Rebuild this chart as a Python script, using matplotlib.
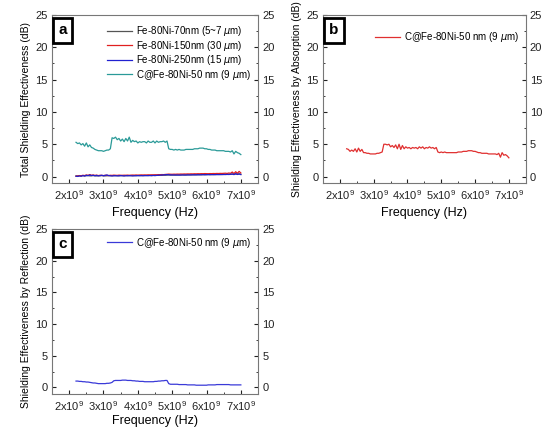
import matplotlib
matplotlib.use('Agg')
import matplotlib.pyplot as plt
from matplotlib.ticker import MultipleLocator, FuncFormatter

plt.rcParams['font.family'] = ['Liberation Sans', 'DejaVu Sans']
plt.rcParams['mathtext.fontset'] = 'custom'
plt.rcParams['mathtext.rm'] = 'Liberation Sans'

# frequency grid in GHz (2.20 .. 7.00, 0.05 steps)
freq_ghz = [2.20, 2.25, 2.30, 2.35, 2.40, 2.45, 2.50, 2.55, 2.60, 2.65,
            2.70, 2.75, 2.80, 2.85, 2.90, 2.95, 3.00, 3.05, 3.10, 3.15,
            3.20, 3.25, 3.30, 3.35, 3.40, 3.45, 3.50, 3.55, 3.60, 3.65,
            3.70, 3.75, 3.80, 3.85, 3.90, 3.95, 4.00, 4.05, 4.10, 4.15,
            4.20, 4.25, 4.30, 4.35, 4.40, 4.45, 4.50, 4.55, 4.60, 4.65,
            4.70, 4.75, 4.80, 4.85, 4.90, 4.95, 5.00, 5.05, 5.10, 5.15,
            5.20, 5.25, 5.30, 5.35, 5.40, 5.45, 5.50, 5.55, 5.60, 5.65,
            5.70, 5.75, 5.80, 5.85, 5.90, 5.95, 6.00, 6.05, 6.10, 6.15,
            6.20, 6.25, 6.30, 6.35, 6.40, 6.45, 6.50, 6.55, 6.60, 6.65,
            6.70, 6.75, 6.80, 6.85, 6.90, 6.95, 7.00]

# panel a: total shielding effectiveness
se_70nm = [0.10, 0.08, 0.12, 0.10, 0.15, 0.10, 0.12, 0.18, 0.10, 0.12,
           0.15, 0.12, 0.10, 0.14, 0.12, 0.15, 0.12, 0.10, 0.12, 0.15,
           0.14, 0.12, 0.15, 0.13, 0.15, 0.12, 0.14, 0.15, 0.12, 0.15,
           0.15, 0.14, 0.16, 0.15, 0.14, 0.16, 0.15, 0.17, 0.16, 0.15,
           0.17, 0.16, 0.18, 0.17, 0.16, 0.18, 0.17, 0.19, 0.18, 0.20,
           0.19, 0.21, 0.20, 0.22, 0.24, 0.22, 0.23, 0.24, 0.22, 0.24,
           0.25, 0.24, 0.26, 0.25, 0.24, 0.26, 0.27, 0.26, 0.27, 0.28,
           0.27, 0.28, 0.29, 0.28, 0.30, 0.29, 0.30, 0.31, 0.30, 0.31,
           0.32, 0.31, 0.32, 0.33, 0.32, 0.34, 0.33, 0.35, 0.34, 0.36,
           0.35, 0.38, 0.34, 0.40, 0.36, 0.42, 0.35]
se_150nm = [0.05, 0.10, 0.15, 0.12, 0.20, 0.15, 0.25, 0.18, 0.30, 0.20,
            0.25, 0.18, 0.22, 0.15, 0.20, 0.18, 0.15, 0.20, 0.18, 0.15,
            0.20, 0.18, 0.22, 0.20, 0.18, 0.22, 0.20, 0.19, 0.21, 0.20,
            0.22, 0.20, 0.21, 0.23, 0.22, 0.24, 0.22, 0.23, 0.25, 0.24,
            0.25, 0.24, 0.26, 0.25, 0.27, 0.26, 0.28, 0.27, 0.30, 0.29,
            0.31, 0.30, 0.33, 0.35, 0.38, 0.36, 0.35, 0.37, 0.36, 0.38,
            0.37, 0.39, 0.38, 0.40, 0.39, 0.41, 0.40, 0.42, 0.41, 0.43,
            0.42, 0.44, 0.43, 0.45, 0.44, 0.46, 0.45, 0.44, 0.46, 0.45,
            0.47, 0.46, 0.48, 0.47, 0.49, 0.48, 0.50, 0.52, 0.48, 0.55,
            0.50, 0.70, 0.45, 0.75, 0.50, 0.80, 0.55]
se_250nm = [0.05, 0.02, 0.10, 0.05, 0.15, 0.08, 0.20, 0.12, 0.25, 0.15,
            0.20, 0.12, 0.18, 0.10, 0.15, 0.20, 0.12, 0.18, 0.25, 0.15,
            0.12, 0.10, 0.12, 0.14, 0.10, 0.12, 0.15, 0.12, 0.10, 0.13,
            0.12, 0.14, 0.12, 0.10, 0.13, 0.12, 0.15, 0.12, 0.14, 0.13,
            0.14, 0.15, 0.13, 0.16, 0.14, 0.17, 0.15, 0.18, 0.20, 0.22,
            0.24, 0.26, 0.28, 0.30, 0.28, 0.26, 0.25, 0.24, 0.25, 0.24,
            0.23, 0.24, 0.25, 0.24, 0.25, 0.26, 0.25, 0.26, 0.27, 0.26,
            0.27, 0.28, 0.27, 0.28, 0.29, 0.28, 0.29, 0.30, 0.29, 0.30,
            0.29, 0.30, 0.31, 0.30, 0.31, 0.30, 0.32, 0.31, 0.33, 0.32,
            0.34, 0.40, 0.30, 0.45, 0.32, 0.40, 0.30]
se_c50nm = [5.3, 5.1, 5.2, 4.9, 5.1, 4.7, 5.2, 4.6, 4.9, 4.5,
            4.4, 4.2, 4.1, 4.0, 4.0, 4.0, 3.9, 4.0, 4.1, 4.1,
            4.3, 6.0, 5.9, 6.1, 5.7, 5.9, 5.5, 5.8, 5.4, 5.9,
            5.5, 6.1, 5.3, 5.6, 5.4, 5.5, 5.2, 5.4, 5.3, 5.4,
            5.4, 5.2, 5.5, 5.3, 5.3, 5.5, 5.2, 5.5, 5.3, 5.4,
            5.4, 5.5, 5.3, 5.5, 4.3, 4.2, 4.2, 4.1, 4.2, 4.1,
            4.2, 4.1, 4.1, 4.1, 4.2, 4.2, 4.2, 4.2, 4.2, 4.3,
            4.3, 4.3, 4.4, 4.4, 4.4, 4.3, 4.3, 4.2, 4.2, 4.1,
            4.1, 4.1, 4.0, 4.0, 4.0, 4.0, 4.0, 3.9, 3.9, 3.9,
            3.8, 4.0, 3.5, 3.9, 3.7, 3.6, 3.4]

# panel b: absorption
se_abs = [4.3, 4.2, 3.9, 4.1, 3.9, 4.3, 3.8, 4.4, 3.9, 4.2,
          3.7, 3.7, 3.6, 3.6, 3.5, 3.5, 3.5, 3.5, 3.6, 3.6,
          3.7, 3.8, 5.0, 5.0, 4.9, 5.0, 4.6, 4.8, 4.5, 4.9,
          4.3, 5.0, 4.2, 4.8, 4.3, 4.6, 4.4, 4.5, 4.3, 4.5,
          4.4, 4.5, 4.3, 4.6, 4.4, 4.6, 4.3, 4.5, 4.4, 4.6,
          4.4, 4.5, 4.3, 4.5, 3.8, 3.7, 3.8, 3.7, 3.8, 3.7,
          3.7, 3.7, 3.7, 3.7, 3.7, 3.7, 3.8, 3.8, 3.8, 3.9,
          3.9, 3.9, 4.0, 4.0, 4.0, 3.9, 3.9, 3.8, 3.7, 3.7,
          3.6, 3.6, 3.6, 3.6, 3.5, 3.5, 3.5, 3.5, 3.5, 3.4,
          3.6, 3.0, 3.7, 3.3, 3.4, 3.2, 2.9]

# panel c: reflection
se_ref = [1.0, 1.0, 0.95, 0.95, 0.9, 0.9, 0.85, 0.85, 0.8, 0.75,
          0.7, 0.7, 0.65, 0.6, 0.6, 0.6, 0.6, 0.6, 0.65, 0.65,
          0.7, 0.8, 1.05, 1.1, 1.1, 1.1, 1.1, 1.15, 1.15, 1.15,
          1.1, 1.1, 1.1, 1.05, 1.05, 1.0, 1.0, 0.95, 0.95, 0.95,
          0.9, 0.9, 0.9, 0.9, 0.9, 0.9, 0.95, 0.95, 1.0, 1.0,
          1.05, 1.05, 1.1, 1.1, 0.6, 0.5, 0.5, 0.5, 0.5, 0.5,
          0.45, 0.45, 0.45, 0.45, 0.45, 0.4, 0.4, 0.4, 0.4, 0.4,
          0.35, 0.35, 0.35, 0.35, 0.35, 0.35, 0.35, 0.4, 0.4, 0.4,
          0.4, 0.4, 0.45, 0.45, 0.45, 0.45, 0.45, 0.45, 0.45, 0.45,
          0.4, 0.4, 0.4, 0.4, 0.4, 0.4, 0.4]

freq = [f * 1e9 for f in freq_ghz]
legend_label = 'C@Fe-80Ni-50 nm (9 $\\mu$m)'


def sci_fmt(v, pos):
    return '%dx10$^9$' % round(v / 1e9)


def style_axis(ax, ylabel, letter, xpad=3):
    ax.set_xlim(1.5e9, 7.5e9)
    ax.set_ylim(-1, 25)
    ax.xaxis.set_major_locator(MultipleLocator(1e9))
    ax.xaxis.set_minor_locator(MultipleLocator(0.5e9))
    ax.xaxis.set_major_formatter(FuncFormatter(sci_fmt))
    ax.yaxis.set_major_locator(MultipleLocator(5))
    ax.yaxis.set_minor_locator(MultipleLocator(2.5))
    ax.tick_params(which='both', direction='in', right=True, labelright=True,
                   labelsize=8, colors='#222222', pad=4)
    ax.tick_params(axis='y', which='both', pad=3)
    ax.tick_params(which='major', length=3)
    ax.tick_params(which='minor', length=1.5)
    for s in ax.spines.values():
        s.set_color('#777777')
        s.set_linewidth(0.8)
    ax.set_xlabel('Frequency (Hz)', fontsize=9, labelpad=xpad)
    ax.set_ylabel(ylabel, fontsize=7.5, labelpad=3)
    ax.text(0.03, 0.95, letter, transform=ax.transAxes, fontsize=11,
            fontweight='bold', va='top', ha='left',
            bbox=dict(boxstyle='square,pad=0.35', fc='white', ec='black', lw=2))


fig = plt.figure(figsize=(5.45, 4.28), dpi=100)
ax_a = fig.add_axes([0.0954, 0.5724, 0.378, 0.3925])
ax_b = fig.add_axes([0.5927, 0.5724, 0.372, 0.3925])
ax_c = fig.add_axes([0.0954, 0.080, 0.378, 0.385])

ax_a.plot(freq, se_70nm, color='#555555', lw=0.9, label='Fe-80Ni-70nm (5~7 $\\mu$m)')
ax_a.plot(freq, se_150nm, color='#e02020', lw=0.9, label='Fe-80Ni-150nm (30 $\\mu$m)')
ax_a.plot(freq, se_250nm, color='#2020d0', lw=0.9, label='Fe-80Ni-250nm (15 $\\mu$m)')
ax_a.plot(freq, se_c50nm, color='#2a9a98', lw=0.9, label=legend_label)
style_axis(ax_a, 'Total Shielding Effectiveness (dB)', 'a')

ax_b.plot(freq, se_abs, color='#e03030', lw=0.9, label=legend_label)
style_axis(ax_b, 'Shielding Effectiveness by Absorption (dB)', 'b')

ax_c.plot(freq, se_ref, color='#3a3ad8', lw=0.9, label=legend_label)
style_axis(ax_c, 'Shielding Effectiveness by Reflection (dB)', 'c', xpad=1)

legend_anchor = {ax_a: 0.985, ax_b: 0.95, ax_c: 1.0}
for ax in (ax_a, ax_b, ax_c):
    ax.legend(loc='upper right', bbox_to_anchor=(1.0, legend_anchor[ax]),
              frameon=False, fontsize=7, handlelength=2.6,
              handletextpad=0.4, labelspacing=0.05, borderaxespad=0.3)

fig.savefig('out.png', dpi=100)
